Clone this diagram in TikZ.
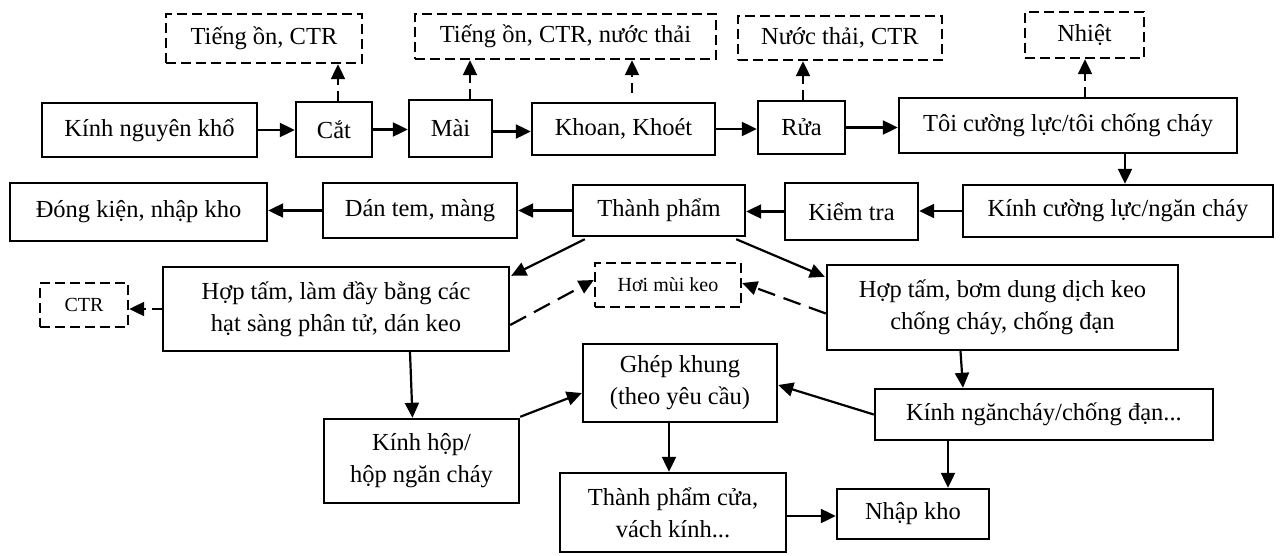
\documentclass[tikz,border=0pt]{standalone}
\usepackage{fontspec}
\setmainfont{Liberation Serif}
\usetikzlibrary{arrows.meta,calc}
\newcommand\myMainFont{\fontsize{24.5}{32}\selectfont}
\newcommand\mySmallFont{\fontsize{20}{24}\selectfont}
\begin{document}
\begin{tikzpicture}[x=1pt,y=-1pt,
  box/.style={draw, line width=2.4pt, inner sep=0pt, align=center, font=\myMainFont},
  dbox/.style={box, dash pattern=on 10pt off 5pt},
  small/.style={font=\mySmallFont},
  sz/.style 2 args={minimum width=#1pt, minimum height=#2pt},
  arr/.style={line width=2.2pt, -{Triangle[length=15pt,width=14pt]}},
  emit/.style={arr, dash pattern=on 10pt off 6pt},
  gas/.style={arr, dash pattern=on 18pt off 9pt}
]
\fill[white] (0,0) rectangle (1280,555);
\useasboundingbox (0,0) rectangle (1280,555);

% emission boxes
\node[dbox, sz={196}{49}] (t1) at (264,38.5) {Tiếng ồn, CTR};
\node[dbox, sz={301}{45}] (t2) at (565.5,36.5) {Tiếng ồn, CTR, nước thải};
\node[dbox, sz={204}{44}] (t3) at (840,38) {Nước thải, CTR};
\node[dbox, sz={119}{46}] (t4) at (1084.5,35) {Nhiệt};

% top row
\node[box, sz={215}{54}] (kn) at (149.5,130) {Kính nguyên khổ};
\node[box, sz={76}{55}] (cat) at (334,129.5) {Cắt};
\node[box, sz={83}{57}] (mai) at (450.5,128.5) {Mài};
\node[box, sz={183}{52}] (khoan) at (623.5,129) {Khoan, Khoét};
\node[box, sz={87}{53}] (rua) at (801.5,127.5) {Rửa};
\node[box, sz={338}{55}] (toi) at (1068,125.5) {Tôi cường lực/tôi chống cháy};

% second row
\node[box, sz={310}{52}] (kcl) at (1118,211) {Kính cường lực/ngăn cháy};
\node[box, sz={133}{57}] (kt) at (851.5,211.5) {Kiểm tra};
\node[box, sz={172}{51}] (tp) at (659,210.5) {Thành phẩm};
\node[box, sz={194}{55}] (dt) at (420,210.5) {Dán tem, màng};
\node[box, sz={257}{58}] (dk) at (138.5,212) {Đóng kiện, nhập kho};

% third row
\node[dbox, small, sz={88}{44}] (ctr) at (84,305) {CTR};
\node[box, sz={346}{84}] (ht1) at (336,309) {Hợp tấm, làm đầy bằng các\\hạt sàng phân tử, dán keo};
\node[dbox, small, sz={146}{44}] (hoi) at (668,285) {Hơi mùi keo};
\node[box, sz={351}{85}] (ht2) at (1002.5,307.5) {Hợp tấm, bơm dung dịch keo\\chống cháy, chống đạn};

% lower part
\node[box, sz={194}{78}] (gk) at (680,383) {Ghép khung\\(theo yêu cầu)};
\node[box, sz={338}{51}] (knc) at (1044,414.5) {Kính ngăncháy/chống đạn...};
\node[box, sz={195}{84}] (kh) at (421.5,461) {Kính hộp/\\hộp ngăn cháy};
\node[box, sz={226}{79}] (tpc) at (673,512.5) {Thành phẩm cửa,\\vách kính...};
\node[box, sz={152}{50}] (nk) at (913,514) {Nhập kho};

% top row flow
\draw[arr] (kn.east) -- (kn.east -| cat.west);
\draw[arr] (cat.east) -- (cat.east -| mai.west);
\coordinate (m1) at ($(mai.east)+(0,3)$);
\draw[arr] (m1) -- (m1 -| khoan.west);
\draw[arr] (khoan.east) -- (khoan.east -| rua.west);
\draw[arr] (rua.east) -- (rua.east -| toi.west);

% emissions
\coordinate (e1) at ($(cat.north)+(4,0)$);
\draw[emit] (e1) -- (e1 |- t1.south);
\coordinate (e2) at ($(mai.north)+(19.5,0)$);
\draw[emit] (e2) -- (e2 |- t2.south);
\coordinate (e3) at ($(khoan.north)+(8.5,-9)$);
\draw[emit] (e3) -- (e3 |- t2.south);
\coordinate (e4) at ($(rua.north)+(1.5,0)$);
\draw[emit] (e4) -- (e4 |- t3.south);
\coordinate (e5) at ($(toi.north)+(17,0)$);
\draw[emit] (e5) -- (e5 |- t4.south);

% right turn and second row
\coordinate (d1) at ($(toi.south)+(57,0)$);
\draw[arr] (d1) -- (d1 |- kcl.north);
\draw[arr] (kcl.west) -- (kcl.west -| kt.east);
\draw[arr] (kt.west) -- (kt.west -| tp.east);
\draw[arr] (tp.west) -- (tp.west -| dt.east);
\draw[arr] (dt.west) -- (dt.west -| dk.east);

% branches
\draw[arr] ($(tp.south west)+(13,2)$) -- ($(ht1.north east)+(1,10)$);
\draw[arr] ($(tp.south east)+(-10,2)$) -- ($(ht2.north west)+(-1,13)$);
\draw[gas] ($(ht1.east)+(0,16)$) -- ($(hoi.west)+(0,-5)$);
\draw[gas] ($(ht2.west)+(0,6)$) -- ($(hoi.east)+(0,-2)$);
\draw[emit] (ht1.west) -- (ht1.west -| ctr.east);

% lower flow
\draw[arr] ($(ht1.south)+(74,0)$) -- ($(kh.north)+(-9,0)$);
\draw[arr] ($(kh.north east)+(0,-1)$) -- ($(gk.west)+(0,10)$);
\draw[arr] (knc.west) -- ($(gk.east)+(0,2)$);
\draw[arr] ($(ht2.south)+(-42,0)$) -- ($(knc.north)+(-81,0)$);
\draw[arr] ($(knc.south)+(-96,0)$) -- ($(nk.north)+(35,0)$);
\draw[arr] ($(gk.south)+(-11,0)$) -- ($(tpc.north)+(-4,0)$);
\coordinate (n1) at ($(tpc.east)+(0,3.5)$);
\draw[arr] (n1) -- (n1 -| nk.west);
\end{tikzpicture}
\end{document}
